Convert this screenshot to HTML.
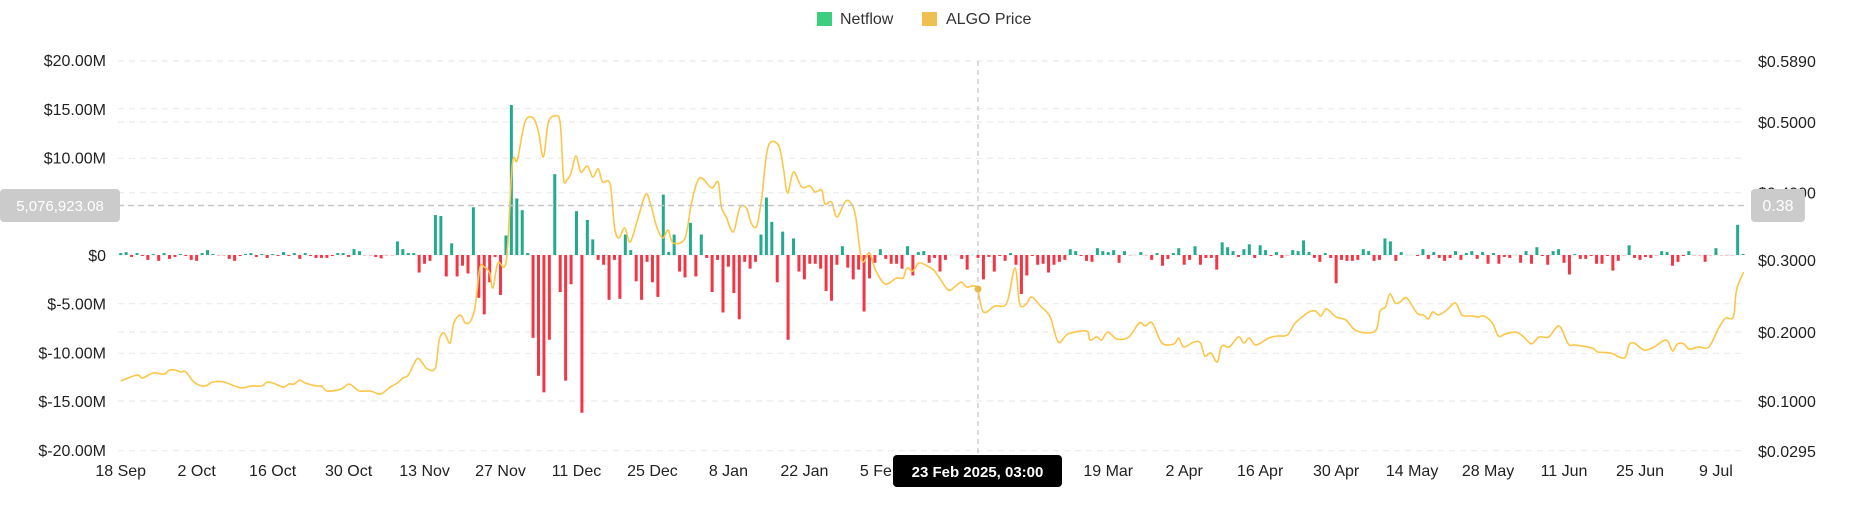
<!DOCTYPE html>
<html><head><meta charset="utf-8"><style>
html,body{margin:0;padding:0;background:#fff;width:1852px;height:525px;overflow:hidden}
svg{display:block;font-family:"Liberation Sans",sans-serif}
</style></head><body>
<svg id="chart" width="1852" height="525" viewBox="0 0 1852 525" xmlns="http://www.w3.org/2000/svg">
<g id="legend">
 <g><rect x="817" y="12" width="15" height="14" fill="#3ccf7f"/><text x="840" y="24" font-size="16" fill="#333">Netflow</text></g>
 <g><rect x="922" y="12" width="15" height="14" fill="#efc050"/><text x="946" y="24" font-size="16" fill="#333">ALGO Price</text></g>
</g>
<g id="grid"></g>
<g id="yleft"></g>
<g id="yright"></g>
<g id="xaxis"></g>
<g id="bars"></g>
<path id="priceLine" fill="none" stroke="#fcc649" stroke-width="1.6"/>
<g id="cross"></g>
</svg>
<script>
const netflow = [0.2,0.3,-0.2,0.2,-0.1,-0.5,0.1,-0.6,0.2,-0.4,-0.2,0.1,-0.1,-0.5,-0.6,0.2,0.5,0.1,-0.05,-0.05,-0.4,-0.6,-0.1,0.1,0.2,-0.2,0.1,-0.3,0.1,-0.1,0.3,-0.1,0.2,-0.4,0.2,-0.1,-0.3,-0.3,-0.3,-0.1,0.2,0.2,-0.2,0.6,0.4,-0.05,-0.05,-0.2,-0.35,-0.05,-0.05,1.4,0.6,0.2,0.2,-1.8,-0.9,-0.6,4.1,4.0,-2.2,1.2,-2.2,-1.1,-1.9,4.9,-4.4,-6.1,-2.8,-0.2,-4.1,2.0,15.4,5.8,
4.6,0.2,-8.5,-12.4,-14.1,-8.7,8.3,-3.8,-12.9,-3.0,4.5,-16.2,3.6,1.6,-0.5,-1.0,-4.6,-0.5,-4.5,2.1,0.5,-2.7,-4.6,-0.7,-2.8,-4.3,6.2,0.3,2.1,-1.7,-2.3,3.3,-2.2,2.1,-0.3,-3.8,-0.5,-5.9,-1.2,-3.9,-6.6,-0.7,-1.4,-0.7,2.1,5.9,3.4,-2.8,2.4,-8.7,1.7,-1.7,-2.5,-0.9,-0.9,-1.4,-3.7,-4.7,-1.0,0.9,-1.3,-2.5,-1.5,-5.8,-2.4,-0.8,0.6,-0.4,-0.9,-0.9,-1.4,0.9,-2.1,0.3,0.4,-0.8,-0.3,-1.7,
-0.5,0.05,0.05,-0.4,-1.5,0.05,-0.3,-2.5,-0.2,-1.7,-0.1,-0.6,0.2,-1.0,-4.0,-2.1,-0.1,-1.0,-0.9,-1.8,-1.0,-0.7,-0.5,0.6,0.4,-0.1,-0.6,-0.7,0.7,0.4,0.3,0.5,-0.8,0.4,-0.05,0.05,0.3,-0.05,-0.5,0.2,-1.1,-0.4,0.2,0.7,-1.0,-0.5,0.9,-1.0,-0.3,-0.3,-1.5,1.3,0.8,0.4,-0.2,0.6,1.1,-0.3,1.0,0.5,-0.1,0.3,-0.3,-0.05,0.5,0.4,1.5,0.3,-0.3,-0.7,0.2,-0.3,-2.9,-0.5,-0.6,-0.6,
-0.5,0.6,0.4,-0.6,-0.5,1.7,1.4,-0.6,0.3,0.05,0.05,-0.1,0.6,-0.4,0.3,-0.3,-0.6,-0.3,0.4,-0.5,0.2,0.4,-0.4,0.3,-0.9,0.2,-0.9,-0.2,-0.3,0.05,-0.8,0.4,-0.9,0.8,-0.1,-1.0,0.4,0.6,-0.8,-2.0,0.1,-0.4,-0.4,-0.1,-0.9,-0.9,-0.1,-1.6,-0.6,-0.05,1.0,-0.3,-0.5,-0.2,-0.3,-0.05,0.4,0.3,-1.1,-0.7,-0.1,0.4,-0.05,-0.05,-0.7,-0.05,0.7,-0.05,-0.05,-0.05,3.1,0.1];
const priceDays = [0,3,4,6,8,9,10,11,12,13.5,15,16,17,19,21,22.5,24,26,27,28,30,31,32,33,34,36,37,38,40,41,42,43,44,46,47,48,49,50,51,52,53,54.6,55.6,56.5,58,58.7,59.6,60.7,61.4,62.6,63.5,64.5,65.3,66.2,67,68,68.6,69.5,70.7,71.3,72.2,73.1,74.5,76,77,77.9,78.8,80,81,81.6,82.2,83,83.9,84.8,86,87,88,88.8,90.2,91,91.8,92.9,93.9,95.4,96.8,97.8,98.8,99.9,100.9,101.8,104,105.2,106.7,108.9,110.1,110.7,111.6,112.9,114.1,115.3,116.2,117.2,118.1,119.3,121.2,122.1,122.9,124,125.5,127,128,129.2,129.8,131,132,133.5,134.4,135.4,136.3,136.9,138,139.1,140.9,143,144.2,144.9,146,147.1,148.3,149.8,150.9,152.5,153.7,154.9,155.9,157.1,157.9,159,161.1,163.3,164.8,165.7,166.9,167.9,169.7,171.3,172.8,174.6,178,178.6,179.9,180.8,181.9,183.6,185.8,187.7,188.8,190.1,191.9,194.1,195,195.9,197.8,199,199.8,200.9,202.1,202.9,204.3,206,207,208,209.2,211.6,213.2,215,216.3,217.5,219,220.2,221.2,222.2,224,225.8,227.8,231.2,232.1,233.1,233.9,234.9,235.8,237,238.9,240.1,241,241.8,242.9,244.4,246,247.2,249.1,250.3,251.2,252.8,253.9,255.2,257.1,258.6,260,261.4,263.2,265.1,266.8,268.2,271.2,272.2,274.6,277.1,278,278.9,280.8,282.6,284.2,285.1,286,286.9,288.1,289.1,290.9,292.7,294.6,295.8,297.2,297.8,299.1];
const priceYpx = [381,375,378,373,374,370,370,372,372,382,386,385,382,382,386,388,386,386,382,383,387,384,384,380,383,386,386,391,390,388,384,387,391,391,393,394,390,386,383,378,375,359,363,369,368,340,333,343,323,315,323,321,307,268,267,273,288,263,267,247,163,160,122,118,132,157,123,116,123,178,180,173,156,172,166,177,169,182,184,227,238,228,242,217,194,207,227,238,230,243,238,203,178,188,182,207,217,232,208,208,223,226,200,147,145,167,193,172,187,186,192,190,204,202,217,202,202,215,253,262,253,270,284,278,278,268,271,263,265,270,278,290,287,282,287,286,289,312,306,303,268,304,304,297,307,317,342,334,331,340,337,340,332,339,337,323,326,323,343,344,338,347,342,343,356,353,362,346,347,337,343,338,345,338,336,335,324,318,312,311,316,309,317,320,331,331,311,307,294,303,302,298,313,315,319,312,315,310,303,315,316,317,316,323,336,334,332,337,344,337,337,326,344,345,348,352,353,358,345,343,350,347,341,341,351,344,344,349,347,347,327,318,317,290,272];
const priceVals = priceYpx.map(y => +(0.5 - (y - 122) / 700).toFixed(4));
const leftTicks = [20,15,10,5,0,-5,-10,-15,-20];
const leftLabels = ["$20.00M","$15.00M","$10.00M","","$0","$-5.00M","$-10.00M","$-15.00M","$-20.00M"];
const rightTicks = [0.589,0.5,0.4,0.3,0.2,0.1,0.0295];
const rightLabels = ["$0.5890","$0.5000","$0.4000","$0.3000","$0.2000","$0.1000","$0.0295"];
const xTickDays = [0,14,28,42,56,70,84,98,112,126,140,154,168,182,196,210,224,238,252,266,280,294];
const xTickLabels = ["18 Sep","2 Oct","16 Oct","30 Oct","13 Nov","27 Nov","11 Dec","25 Dec","8 Jan","22 Jan","5 Feb","19 Feb","5 Mar","19 Mar","2 Apr","16 Apr","30 Apr","14 May","28 May","11 Jun","25 Jun","9 Jul"];
const NS="http://www.w3.org/2000/svg";
const X0=120.7, PX=5.426, L=118, R=1745;
const xs=d=>X0+d*PX;
const yL=v=>255-v*9.74;
const yR=p=>122+(0.5-p)*700;
function mk(t,a,parent){const e=document.createElementNS(NS,t);for(const k in a)e.setAttribute(k,a[k]);parent.appendChild(e);return e;}
const grid=document.getElementById('grid');
const gl=[61,108.7,122,158.3,192.7,255,303.7,332,353.3,401,450.7];
gl.forEach(y=>{const l=mk('line',{x1:L,x2:R,y1:y,y2:y,stroke:'#ebebeb','stroke-width':1.2,'stroke-dasharray':'6 5'},grid);

});
const yl=document.getElementById('yleft');
leftTicks.forEach((v,i)=>{if(!leftLabels[i])return;const t=mk('text',{x:106,y:yL(v)+6,'text-anchor':'end','font-size':16,fill:'#222'},yl);t.textContent=leftLabels[i];

});
const yr=document.getElementById('yright');
rightTicks.forEach((v,i)=>{let y=[61,122,192.5,260,332,401,451][i];const t=mk('text',{x:1758,y:y+6,'font-size':16,fill:'#222'},yr);t.textContent=rightLabels[i];

});
const xa=document.getElementById('xaxis');
xTickDays.forEach((d,i)=>{const t=mk('text',{x:xs(d),y:476,'text-anchor':'middle','font-size':16,fill:'#222'},xa);t.textContent=xTickLabels[i];

});
const bg=document.getElementById('bars');
netflow.forEach((v,i)=>{const x=xs(i)-1.5,y0=yL(0),y1=yL(v);const small=Math.abs(v)<0.1;
const r=mk('rect',{x:x,width:3,y:Math.min(y0,y1),height:Math.max(Math.abs(y1-y0),1),fill:v>=0?(small?'#bfe8dc':'#22ab8e'):(small?'#f9c2c7':'#f23645')},bg);

});
const pts=priceDays.map((d,i)=>[xs(d),yR(priceVals[i])]);
let dstr='M'+pts[0][0]+','+pts[0][1];
for(let i=0;i<pts.length-1;i++){const p0=pts[Math.max(i-1,0)],p1=pts[i],p2=pts[i+1],p3=pts[Math.min(i+2,pts.length-1)];const k=6;
dstr+=` C${p1[0]+(p2[0]-p0[0])/k},${p1[1]+(p2[1]-p0[1])/k} ${p2[0]-(p3[0]-p1[0])/k},${p2[1]-(p3[1]-p1[1])/k} ${p2[0]},${p2[1]}`;}
document.getElementById('priceLine').setAttribute('d',dstr);
const cr=document.getElementById('cross');
const cx=xs(158);
mk('line',{x1:cx,x2:cx,y1:61,y2:455,stroke:'#c4c4c4','stroke-width':1.2,'stroke-dasharray':'5 4'},cr);
mk('line',{x1:L,x2:R,y1:205.5,y2:205.5,stroke:'#c4c4c4','stroke-width':1.5,'stroke-dasharray':'6 4'},cr);
mk('circle',{cx:cx,cy:289,r:3.5,fill:'#e8b84a'},cr);
mk('rect',{x:0,y:189,width:120,height:33,rx:4,fill:'#cbcbcb'},cr);
let t=mk('text',{x:60,y:211,'text-anchor':'middle','font-size':15,fill:'#fff'},cr);t.textContent='5,076,923.08';


mk('rect',{x:1751,y:189,width:54,height:33,rx:4,fill:'#cbcbcb'},cr);
t=mk('text',{x:1778,y:211,'text-anchor':'middle','font-size':16,fill:'#fff'},cr);t.textContent='0.38';


mk('rect',{x:893,y:455,width:169,height:32,rx:4,fill:'#000'},cr);
t=mk('text',{x:977.5,y:477,'text-anchor':'middle','font-size':15,'font-weight':'bold',fill:'#fff'},cr);t.textContent='23 Feb 2025, 03:00';


</script>
</body></html>
